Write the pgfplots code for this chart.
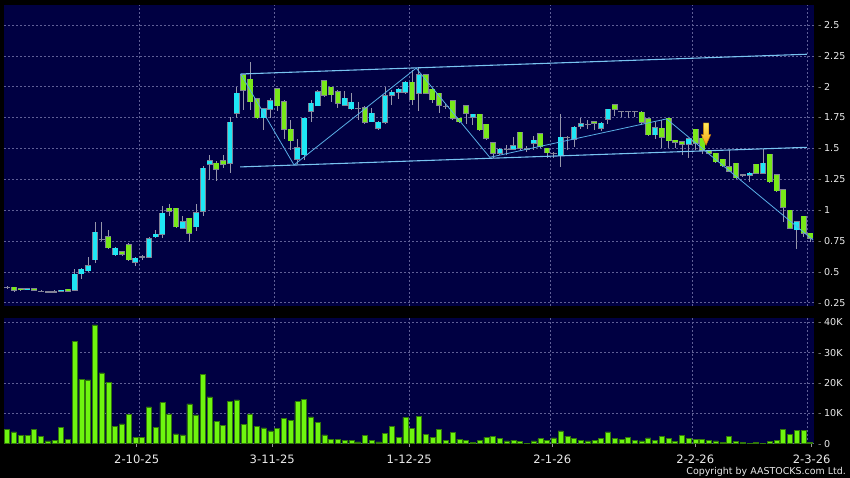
\documentclass[border=0pt]{standalone}
\usepackage{pgfplots}
\pgfplotsset{compat=1.18}
\usepackage{pgfplotstable}
\usepackage{fontspec}
\setmainfont{DejaVu Sans}

\definecolor{panel}{RGB}{0,0,66}
\definecolor{gridc}{RGB}{95,95,150}
\definecolor{tickgray}{RGB}{150,150,150}
\definecolor{ticktext}{RGB}{235,235,235}
\definecolor{upcyan}{RGB}{30,230,245}
\definecolor{downgreen}{RGB}{120,232,25}
\definecolor{candleedge}{RGB}{130,130,150}
\definecolor{wick}{RGB}{150,150,170}
\definecolor{volgreen}{RGB}{110,245,15}
\definecolor{voledge}{RGB}{50,120,10}
\definecolor{trend}{RGB}{90,175,230}
\definecolor{channel}{RGB}{120,195,240}

\newcommand\tdash{\textcolor{tickgray}{-}\hspace{2.5bp}}

% i, open, high, low, close, volume (K)
\pgfplotstableread{
i o h l c v
0 0.37 0.385 0.36 0.37 4.7
1 0.375 0.38 0.34 0.35 3.9
2 0.365 0.37 0.35 0.355 2.8
3 0.355 0.37 0.35 0.365 2.8
4 0.365 0.37 0.345 0.352 4.6
5 0.342 0.35 0.335 0.342 2.4
6 0.337 0.34 0.33 0.337 0.9
7 0.337 0.35 0.33 0.337 1.1
8 0.342 0.355 0.335 0.352 5.5
9 0.358 0.36 0.34 0.342 1.3
10 0.35 0.52 0.345 0.48 33.8
11 0.485 0.53 0.44 0.52 21.1
12 0.51 0.62 0.50 0.55 21.0
13 0.60 0.90 0.57 0.82 39.1
14 0.76 0.906 0.746 0.76 23.3
15 0.785 0.84 0.69 0.695 20.3
16 0.64 0.70 0.63 0.69 5.7
17 0.663 0.67 0.63 0.642 6.5
18 0.72 0.73 0.595 0.60 9.6
19 0.577 0.62 0.55 0.61 2.0
20 0.62 0.64 0.60 0.62 2.2
21 0.62 0.78 0.61 0.77 12.1
22 0.785 0.84 0.775 0.805 5.3
23 0.805 1.03 0.777 0.975 13.5
24 1.015 1.05 0.95 0.99 9.8
25 1.015 1.02 0.86 0.865 3.2
26 0.855 0.95 0.85 0.905 2.9
27 0.935 0.94 0.745 0.815 13.1
28 0.865 1.05 0.83 0.98 9.5
29 0.99 1.36 0.955 1.34 22.7
30 1.37 1.447 1.244 1.40 15.4
31 1.38 1.40 1.24 1.33 7.3
32 1.40 1.45 1.34 1.37 5.9
33 1.38 1.755 1.30 1.71 14.0
34 1.785 2.00 1.75 1.945 14.4
35 2.095 2.10 1.81 1.97 6.4
36 2.06 2.20 1.81 1.88 9.8
37 1.90 1.91 1.74 1.75 5.7
38 1.75 1.83 1.65 1.82 5.2
39 1.817 1.91 1.75 1.887 4.2
40 1.985 1.99 1.80 1.845 5.1
41 1.88 1.89 1.58 1.655 8.2
42 1.655 1.73 1.49 1.563 7.8
43 1.412 1.58 1.37 1.506 13.8
44 1.45 1.75 1.406 1.745 14.5
45 1.80 1.89 1.717 1.867 8.8
46 1.846 1.97 1.84 1.96 6.9
47 2.05 2.055 1.92 1.933 2.9
48 1.995 2.0 1.88 1.935 1.5
49 1.96 1.97 1.83 1.866 1.5
50 1.852 1.965 1.84 1.906 1.2
51 1.82 1.95 1.81 1.874 1.1
52 1.825 1.88 1.73 1.825 0.6
53 1.83 1.84 1.70 1.71 2.6
54 1.717 1.825 1.71 1.785 1.2
55 1.663 1.72 1.65 1.71 0.6
56 1.71 2.0 1.70 1.927 3.5
57 1.933 1.97 1.85 1.955 5.6
58 1.955 1.99 1.90 1.98 2.0
59 1.955 2.05 1.94 2.035 8.7
60 2.035 2.135 1.85 1.893 4.9
61 1.947 2.15 1.80 2.095 9.1
62 2.095 2.10 1.94 1.947 3.0
63 1.98 1.99 1.87 1.893 2.1
64 1.947 1.95 1.785 1.852 4.8
65 1.84 1.86 1.82 1.84 1.2
66 1.887 1.89 1.73 1.744 3.7
67 1.745 1.75 1.71 1.717 1.5
68 1.845 1.85 1.70 1.785 1.2
69 1.752 1.78 1.69 1.777 0.5
70 1.777 1.78 1.64 1.65 1.1
71 1.696 1.70 1.57 1.582 2.1
72 1.546 1.55 1.42 1.46 2.5
73 1.46 1.50 1.45 1.493 1.7
74 1.493 1.53 1.45 1.493 0.9
75 1.493 1.595 1.49 1.522 1.2
76 1.63 1.635 1.49 1.50 0.8
77 1.495 1.52 1.47 1.495 0.2
78 1.54 1.60 1.49 1.567 0.9
79 1.617 1.62 1.50 1.514 1.6
80 1.50 1.505 1.42 1.465 1.0
81 1.46 1.47 1.42 1.46 1.9
82 1.44 1.78 1.35 1.59 4.2
83 1.585 1.60 1.49 1.585 2.5
84 1.574 1.68 1.51 1.67 1.7
85 1.68 1.75 1.66 1.70 1.0
86 1.695 1.73 1.66 1.695 0.9
87 1.717 1.72 1.65 1.703 1.1
88 1.663 1.71 1.64 1.703 1.7
89 1.736 1.82 1.70 1.817 3.9
90 1.852 1.855 1.76 1.817 1.8
91 1.797 1.80 1.757 1.797 1.5
92 1.797 1.80 1.75 1.797 2.0
93 1.797 1.80 1.757 1.797 1.2
94 1.793 1.80 1.69 1.71 0.9
95 1.74 1.745 1.60 1.61 1.9
96 1.61 1.71 1.58 1.668 1.2
97 1.663 1.73 1.50 1.59 2.3
98 1.745 1.75 1.50 1.563 1.6
99 1.567 1.57 1.50 1.55 0.8
100 1.555 1.56 1.447 1.536 2.6
101 1.536 1.58 1.42 1.577 1.8
102 1.655 1.66 1.486 1.542 1.3
103 1.582 1.59 1.455 1.487 1.3
104 1.48 1.49 1.46 1.46 1.2
105 1.46 1.465 1.38 1.393 0.9
106 1.412 1.415 1.35 1.358 0.5
107 1.352 1.487 1.31 1.317 2.3
108 1.38 1.385 1.26 1.263 0.7
109 1.285 1.29 1.27 1.285 0.3
110 1.285 1.31 1.23 1.30 0.2
111 1.37 1.375 1.295 1.30 0.5
112 1.30 1.493 1.295 1.38 0.1
113 1.452 1.455 1.225 1.23 0.7
114 1.285 1.29 1.15 1.158 1.1
115 1.163 1.165 0.906 1.023 4.8
116 1.0 1.0 0.85 0.853 3.1
117 0.84 0.91 0.683 0.904 4.5
118 0.952 0.955 0.78 0.812 4.3
119 0.812 0.815 0.745 0.772 0.3
}\candles
% helper columns for wicks and bodies
\pgfplotstablecreatecol[create col/expr={\thisrow{h}-\thisrow{c}}]{hc}{\candles}
\pgfplotstablecreatecol[create col/expr={\thisrow{c}-\thisrow{l}}]{cl}{\candles}
\pgfplotstablecreatecol[create col/expr={max(\thisrow{c}-\thisrow{o},0)}]{du}{\candles}
\pgfplotstablecreatecol[create col/expr={max(\thisrow{o}-\thisrow{c},0)}]{dd}{\candles}
\pgfplotstablecreatecol[create col/expr={min(\thisrow{o},\thisrow{c})-0.0045}]{lo}{\candles}
\pgfplotstablecreatecol[create col/expr={abs(\thisrow{c}-\thisrow{o})+0.009}]{ext}{\candles}

\pgfplotsset{
  panelstyle/.style={
    scale only axis,
    width=810bp,
    xmin=-0.474, xmax=119.546,
    axis background/.style={fill=panel},
    axis line style={draw=none},
    xtick={19.57,39.58,59.58,80.47,101.57,118.6},
    xticklabels={},
    grid=major,
    major grid style={draw=gridc, line width=0.6bp, dash pattern=on 2bp off 2bp},
    major tick length=0pt,
    tick style={draw=tickgray, line width=0.8bp},
    ytick pos=right,
    yticklabel pos=right,
    xtick pos=bottom,
    /pgf/number format/assume math mode=true,
    ticklabel style={font=\fontsize{9.6}{11}\selectfont, text=ticktext},
    yticklabel style={anchor=west, inner sep=0pt, xshift=4bp},
  },
  bodystyle/.style 2 args={draw=none, mark=none, forget plot,
    error bars/.cd, y dir=plus, y explicit, error mark=none,
    error bar style={draw=#1, line width=#2, solid}},
}

\begin{document}
\begin{tikzpicture}
\fill[black] (0,0) rectangle (850bp,478bp);

\begin{axis}[
  panelstyle,
  at={(4bp,172bp)}, anchor=south west,
  height=301bp,
  ymin=0.2233, ymax=2.662,
  ytick={0.25,0.5,0.75,1,1.25,1.5,1.75,2,2.25,2.5},
  yticklabel={\tdash\pgfmathprintnumber{\tick}},
]
% wicks
\addplot[draw=none, mark=none, forget plot,
  error bars/.cd, y dir=both, y explicit, error mark=none,
  error bar style={draw=wick, line width=0.8bp, solid}]
  table[x=i, y=c, y error plus=hc, y error minus=cl] {\candles};
% body outlines, then fills
\addplot[bodystyle={candleedge}{6.1bp}] table[x=i, y=lo, y error plus=ext] {\candles};
\addplot[bodystyle={upcyan}{4.7bp}] table[x=i, y=o, y error plus=du] {\candles};
\addplot[bodystyle={downgreen}{4.7bp}] table[x=i, y=c, y error plus=dd] {\candles};
% trend channel and zigzag
\addplot[channel, line width=1.1bp, mark=none] coordinates {(34.6,2.103) (118.5,2.263)};
\addplot[channel, line width=1.1bp, mark=none] coordinates {(34.5,1.350) (118.5,1.509)};
\addplot[trend, line width=0.8bp, mark=none] coordinates {
  (34.6,2.103) (42.5,1.366) (60.6,2.150) (71.5,1.428) (97.7,1.739) (119.4,0.758)};
% signal arrow
\shadedraw[top color={rgb,255:red,255;green,235;blue,90},
  bottom color={rgb,255:red,245;green,160;blue,20},
  draw={rgb,255:red,200;green,120;blue,0}, line width=0.4bp]
  (axis cs:103.15,1.706) -- (axis cs:103.95,1.706) -- (axis cs:103.95,1.612)
  -- (axis cs:104.25,1.612) -- (axis cs:103.55,1.525) -- (axis cs:102.85,1.612)
  -- (axis cs:103.15,1.612) -- cycle;
\end{axis}

\begin{axis}[
  panelstyle,
  at={(4bp,34.3bp)}, anchor=south west,
  height=125.7bp,
  ymin=0, ymax=41.4,
  ytick={0,10,20,30,40},
  yticklabels={\tdash 0,\tdash 10K,\tdash 20K,\tdash 30K,\tdash 40K},
  extra x ticks={19.19,39.28,59.58,80.77,101.96,119.2},
  extra x tick labels={2-10-25,3-11-25,1-12-25,2-1-26,2-2-26,2-3-26},
  extra x tick style={grid=none, major tick length=6bp, tick align=outside,
    major tick style={dash pattern=on 0pt off 2.8bp on 3.2bp off 20bp},
    xticklabel style={anchor=north, inner sep=0pt, yshift=-5.5bp,
      font=\fontsize{11.6}{13}\selectfont}},
]
\addplot[ybar, bar width=5bp, bar shift=0pt, fill=volgreen, draw=voledge,
  line width=0.7bp] table[x=i, y=v] {\candles};
\end{axis}

\node[anchor=base east, text=ticktext, font=\fontsize{9.5}{11}\selectfont, inner sep=0pt]
  at (846bp,3.5bp) {Copyright by AASTOCKS.com Ltd.};

\pgfresetboundingbox
\useasboundingbox (0,0) rectangle (850bp,478bp);
\end{tikzpicture}
\end{document}
